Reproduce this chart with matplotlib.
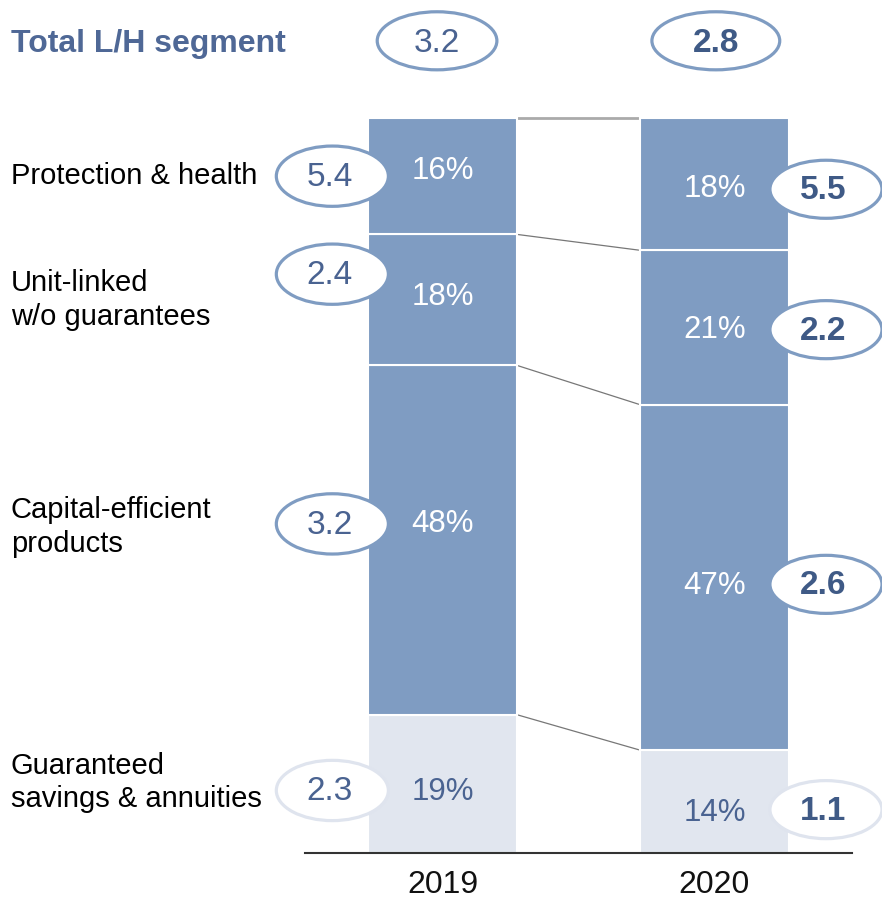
import numpy as np
import matplotlib.pyplot as plt
from matplotlib.patches import Ellipse
from matplotlib.transforms import blended_transform_factory

plt.rcParams['font.family'] = ['Liberation Sans', 'DejaVu Sans']

# data, segments listed bottom to top
years = ['2019', '2020']
segments = ['Guaranteed\nsavings & annuities', 'Capital-efficient\nproducts',
            'Unit-linked\nw/o guarantees', 'Protection & health']
shares_2019 = [19, 48, 18, 16]
shares_2020 = [14, 47, 21, 18]
values_2019 = [2.3, 3.2, 2.4, 5.4]
values_2020 = [1.1, 2.6, 2.2, 5.5]
totals = [3.2, 2.8]

# layout: nudges (in % units) from segment centres
pct_nudge = [[-1.1, 2.2, 0.4, 0.7], [-1.5, -1.2, -0.3, -0.7]]
bub_nudge = [[-0.9, 2.2, 3.5, 0.0], [-1.1, -0.95, -0.3, -0.7]]
lab_nudge = [0.2, 1.8, 0.0, 0.0]

blue = '#7f9cc2'
light = '#e1e6ef'
txt_blue = '#4a6391'
seg_colors = [light, blue, blue, blue]

fig = plt.figure(figsize=(8.82, 9.06), dpi=100)
ax = fig.add_axes([0, 0, 1, 1])
ax.set_xlim(-1.627, 1.616)
ax.set_ylim(-7.21, 116.05)
ax.axis('off')

width = 0.548
half = width / 2
tops = []
for i, shares in enumerate([shares_2019, shares_2020]):
    h = np.array(shares) / sum(shares) * 100  # normalise so both bars reach 100
    bottoms = np.concatenate([[0], np.cumsum(h)[:-1]])
    ax.bar(i, h, width, bottom=bottoms, color=seg_colors, edgecolor='white', linewidth=1.5, zorder=2)
    tops.append(np.cumsum(h))
    vals = [values_2019, values_2020][i]
    for k in range(4):
        yc = bottoms[k] + h[k] / 2
        ax.text(i, yc + pct_nudge[i][k], f'{shares[k]}%', ha='center', va='center', fontsize=22.5,
                color='white' if seg_colors[k] == blue else txt_blue, zorder=5)
        # value bubbles: left of 2019, right of 2020, both drawn over the bar edge
        ex = i - 0.405 if i == 0 else i + 0.41
        ey = yc + bub_nudge[i][k]
        ec = '#dfe4ee' if k == 0 else blue
        eh = 8.2 if i == 0 else 7.9
        ax.add_patch(Ellipse((ex, ey), 0.412, eh, facecolor='white', edgecolor=ec, lw=2.3, zorder=3))
        ax.text(ex - 0.01, ey - 0.2, f'{vals[k]:.1f}', ha='center', va='center', fontsize=24,
                color=txt_blue if i == 0 else '#3f5a86',
                fontweight='normal' if i == 0 else 'bold', zorder=4)
    ax.text(i, -4.35, years[i], ha='center', va='center', fontsize=23, color='#111111')

# connectors between the bars
for j, (a, b) in enumerate(zip(tops[0], tops[1])):
    if j == 3:
        ax.plot([half, 1 - half], [a, b], color='#aaaaaa', lw=2, zorder=1)
    else:
        ax.plot([half, 1 - half], [a, b], color='#777777', lw=0.9, zorder=1)

# baseline
ax.plot([-0.506, 1.506], [0, 0], color='#333333', lw=1.5, zorder=3)

# segment labels on the left
tr = blended_transform_factory(fig.transFigure, ax.transData)
h19 = np.array(shares_2019) / sum(shares_2019) * 100
mids = np.cumsum(h19) - h19 / 2
for lab, y, dy in zip(segments, mids, lab_nudge):
    ax.text(11 / 882, y + dy, lab, transform=tr, ha='left', va='center', fontsize=21,
            color='black', linespacing=1.25)

# total row
ax.text(11 / 882, 110.0, 'Total L/H segment', transform=tr, ha='left', va='center',
        fontsize=23, fontweight='bold', color='#4f6896')
for i, t in enumerate(totals):
    x0 = i - 0.02 if i == 0 else i + 0.005
    w0 = 0.44 if i == 0 else 0.47
    ax.add_patch(Ellipse((x0, 110.5), w0, 7.9, facecolor='white', edgecolor=blue, lw=2.3))
    ax.text(x0, 110.1, f'{t:.1f}', ha='center', va='center', fontsize=24,
            color=txt_blue if i == 0 else '#3f5a86', fontweight='normal' if i == 0 else 'bold')

fig.savefig('out.png', dpi=100)
